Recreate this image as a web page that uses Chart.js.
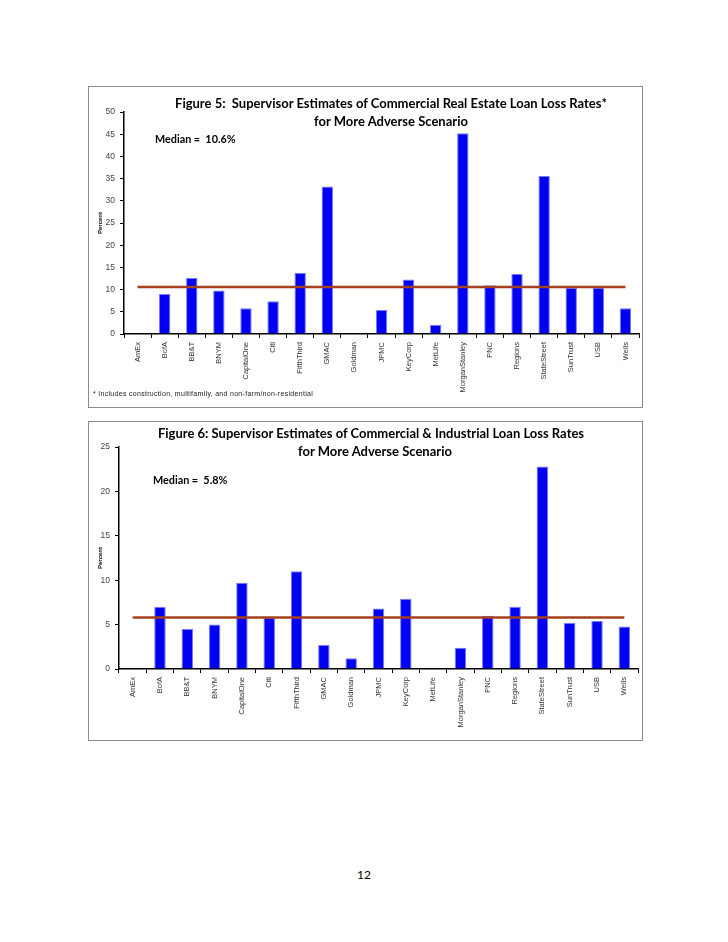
<!DOCTYPE html>
<html>
<head>
<meta charset="utf-8">
<script src="https://cdn.jsdelivr.net/npm/chart.js@4"></script>
<style>
  body { margin: 0; background: #fff; width: 728px; height: 942px; position: relative; font-family: Lato, "Liberation Sans", sans-serif; }
  .box { position: absolute; border: 1px solid #8a8a8a; background: #fff; }
  .box canvas { position: absolute; left: 0; top: 0; }
  .txt { position: absolute; white-space: nowrap; color: #000; }
  .ttl { font-weight: bold; font-size: 13px; text-align: center; }
  .med { font-weight: bold; font-size: 10.8px; }
  .note { font-family: "Liberation Sans", sans-serif; font-size: 7px; letter-spacing: 0.3px; color: #222; }
</style>
</head>
<body>

<div class="box" id="box1" style="left:88px; top:86px; width:553px; height:320px;">
  <canvas id="chartCRE" width="553" height="320"></canvas>
</div>
<div class="txt ttl" style="left:146px; width:490px; top:95px;">Figure 5:&nbsp; Supervisor Estimates of Commercial Real Estate Loan Loss Rates*</div>
<div class="txt ttl" style="left:146px; width:490px; top:113px;">for More Adverse Scenario</div>
<div class="txt med" style="left:155px; top:132px;">Median =&nbsp; 10.6%</div>
<div class="txt note" style="left:93px; top:390px;">* Includes construction, multifamily, and non-farm/non-residential</div>

<div class="box" id="box2" style="left:88px; top:421px; width:553px; height:318px;">
  <canvas id="chartCI" width="553" height="318"></canvas>
</div>
<div class="txt ttl" style="left:126px; width:490px; top:425px;">Figure 6: Supervisor Estimates of Commercial &amp; Industrial Loan Loss Rates</div>
<div class="txt ttl" style="left:130px; width:490px; top:443px;">for More Adverse Scenario</div>
<div class="txt med" style="left:153px; top:473px;">Median =&nbsp; 5.8%</div>

<div class="txt" style="left:357px; top:867px; font-size:12px;">12</div>

<script>
// banks along the x axis
var banks = ['AmEx', 'BofA', 'BB&T', 'BNYM', 'CapitalOne', 'Citi', 'FifthThird', 'GMAC', 'Goldman',
  'JPMC', 'KeyCorp', 'MetLife', 'MorganStanley', 'PNC', 'Regions', 'StateStreet', 'SunTrust', 'USB', 'Wells'];

// Figure 5: commercial real estate loss rates (percent)
var creRates = [0, 9.0, 12.6, 9.8, 5.8, 7.4, 13.8, 33.2, 0, 5.4, 12.3, 2.1, 45.2, 11.0, 13.5, 35.6, 10.4, 10.4, 5.8];
var creMedian = 10.6;
var creTicks = [0, 5, 10, 15, 20, 25, 30, 35, 40, 45, 50];

// Figure 6: commercial & industrial loss rates (percent)
var ciRates = [0, 7.0, 4.5, 5.0, 9.7, 5.8, 11.0, 2.7, 1.2, 6.8, 7.9, 0, 2.4, 6.0, 7.0, 22.8, 5.2, 5.4, 4.8];
var ciMedian = 5.8;
var ciTicks = [0, 5, 10, 15, 20, 25];

function makeChart(id, rates, median, ticks, opts) {
  var ctx = document.getElementById(id);
  // flat median line across all banks
  var medianLine = banks.map(function(){ return median; });
  return new Chart(ctx, {
    type: 'bar',
    data: {
      labels: banks,
      datasets: [
        {
          type: 'line',
          data: medianLine,
          borderColor: '#a5401c',
          borderWidth: 2.5,
          pointRadius: 0,
          fill: false,
          order: 0
        },
        {
          data: rates,
          backgroundColor: '#0000f5',
          borderColor: '#7a7aff',
          borderWidth: { left: 1, right: 1, top: 1, bottom: 0 },
          categoryPercentage: 1,
          barPercentage: 0.42,
          order: 1
        }
      ]
    },
    options: {
      responsive: false,
      animation: false,
      layout: { padding: { left: 0, right: opts.right, top: opts.top, bottom: 0 } },
      plugins: { legend: { display: false }, tooltip: { enabled: false } },
      scales: {
        x: {
          grid: { display: true, drawOnChartArea: false, drawTicks: true, tickLength: 4, color: '#000', offset: true },
          border: { color: '#000', width: 1.5 },
          ticks: {
            minRotation: 90, maxRotation: 90, autoSkip: false, padding: 4,
            color: '#333', font: { family: 'Liberation Sans', size: 7.5 }
          },
          afterFit: function(s) { s.height = opts.xh; }
        },
        y: {
          min: 0, max: ticks[ticks.length - 1],
          afterBuildTicks: function(s) { s.ticks = ticks.map(function(v){ return { value: v }; }); },
          grid: { display: true, drawOnChartArea: false, drawTicks: true, tickLength: 4, color: '#000' },
          border: { color: '#000', width: 1.5 },
          ticks: { padding: 5, color: '#444', font: { family: 'Liberation Sans', size: 8.5 } },
          title: {
            display: true, text: 'Percent', color: '#000',
            font: { family: 'Liberation Sans', size: 6, weight: 'bold' },
            padding: { top: 8, bottom: 0 }
          },
          afterFit: function(s) { s.width = opts.yw; }
        }
      }
    }
  });
}

makeChart('chartCRE', creRates, creMedian, creTicks, { right: 3, top: 25, xh: 73, yw: 35 });
makeChart('chartCI', ciRates, ciMedian, ciTicks, { right: 4, top: 25, xh: 71, yw: 30 });
</script>
</body>
</html>
